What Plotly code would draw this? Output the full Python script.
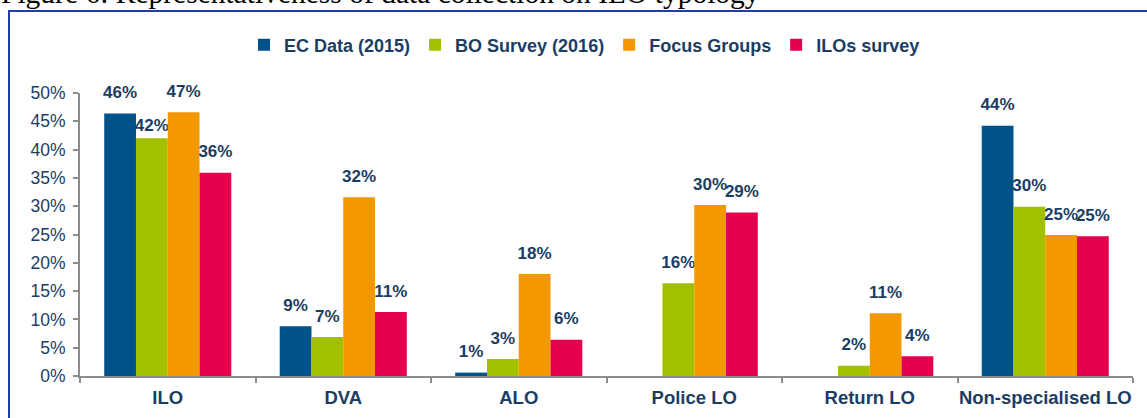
import plotly.graph_objects as go

categories = ["ILO", "DVA", "ALO", "Police LO", "Return LO", "Non-specialised LO"]
series_names = ["EC Data (2015)", "BO Survey (2016)", "Focus Groups", "ILOs survey"]
ec_data = [0.464, 0.088, 0.006, None, None, 0.442]
bo_survey = [0.420, 0.069, 0.030, 0.164, 0.018, 0.299]
focus_groups = [0.466, 0.316, 0.180, 0.302, 0.111, 0.249]
ilos_survey = [0.359, 0.113, 0.064, 0.289, 0.035, 0.247]
title_text = "Figure 6: Representativeness of data collection on ILO typology"

colors = ["#005288", "#a2bf00", "#f39800", "#e4004f"]
navy = "#1b3d63"
W, H = 1147, 418
ml, mr, mt, mb = 80, 14, 93, 42
pw, ph = W - ml - mr, H - mt - mb

def px_x(x):
    return (x - ml) / pw

def px_y(y):
    return (H - mb - y) / ph

raised = "<span style='font-size:17px'>%{y:.0%}</span><br>\u00a0"
close = "<span style='font-size:17px'>%{y:.0%}</span>"

fig = go.Figure()
for name, vals, col in zip(series_names, [ec_data, bo_survey, focus_groups, ilos_survey], colors):
    templates = [raised] * len(categories)
    if name == "BO Survey (2016)":
        templates[0] = close  # label sits lower in the original
    fig.add_trace(go.Bar(
        name=name, x=categories, y=vals, marker=dict(color=col, line=dict(width=0)),
        texttemplate=templates, textposition="outside", constraintext="none",
        cliponaxis=False,
        textfont=dict(family="Liberation Sans, Arial", size=8, color=navy, weight="bold"),
    ))

fig.update_layout(
    width=W, height=H,
    margin=dict(l=ml, r=mr, t=mt, b=mb, autoexpand=False),
    barmode="group", bargap=0.276, bargroupgap=0,
    plot_bgcolor="white", paper_bgcolor="white",
    font=dict(family="Liberation Sans, Arial", color=navy),
    showlegend=True,
    legend=dict(orientation="h", x=px_x(244), xanchor="left", y=px_y(45), yanchor="middle",
                font=dict(size=18, color=navy, weight="bold"), itemwidth=30,
                traceorder="normal"),
    xaxis=dict(showline=True, linecolor="#8c8c8c", linewidth=2, ticks="outside",
               tickson="boundaries", ticklen=5, tickcolor="#8c8c8c", tickwidth=2,
               tickangle=0, ticklabelstandoff=4,
               tickfont=dict(size=18.5, color=navy, weight="bold"), showgrid=False),
    yaxis=dict(range=[0, 0.5], dtick=0.05, tickformat=".0%", showline=True,
               linecolor="#8c8c8c", linewidth=2, ticks="outside", ticklen=5,
               tickcolor="#8c8c8c", tickwidth=2, showgrid=False, zeroline=False,
               ticklabelstandoff=4,
               tickfont=dict(size=17.5, color=navy)),
    shapes=[dict(type="rect", xref="paper", yref="paper",
                 x0=px_x(9), x1=px_x(1170), y0=px_y(440), y1=px_y(11),
                 line=dict(color="#1f3fa8", width=2), fillcolor="rgba(0,0,0,0)", layer="below")],
    annotations=[dict(text=title_text, xref="paper", yref="paper", x=px_x(-1), y=px_y(11),
                      xanchor="left", yanchor="bottom", showarrow=False,
                      font=dict(family="Liberation Serif, Times New Roman", size=29.5, color="black"))],
)

fig.write_html("out.html", config={"displayModeBar": False},
               post_script="document.body.style.margin='0';")
